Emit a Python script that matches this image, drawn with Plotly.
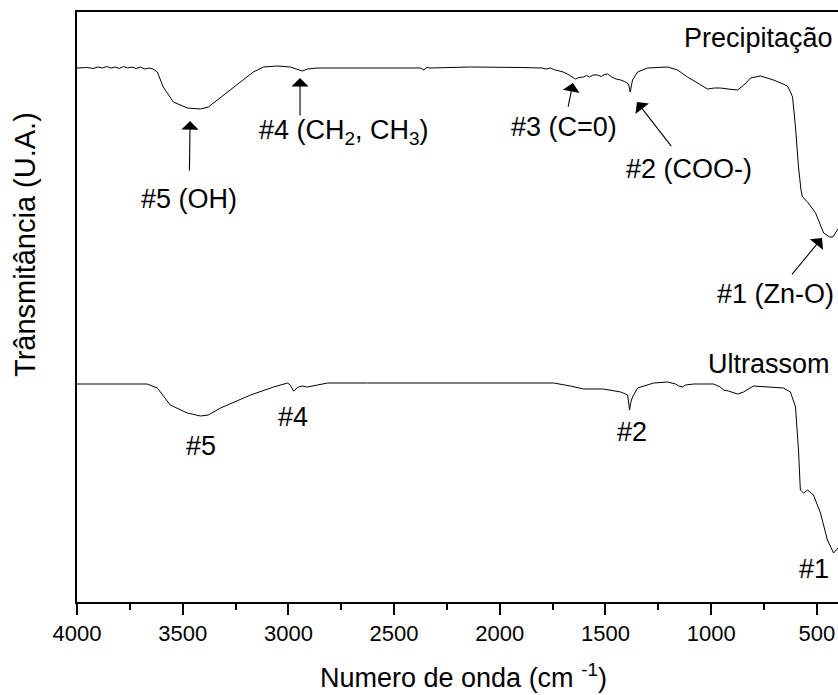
import plotly.graph_objects as go

# ---- data (wavenumber cm^-1, transmittance a.u.) ----
prec_wn = [4000, 3975, 3950, 3925, 3900, 3880, 3860, 3840, 3820, 3800, 3780, 3760, 3740, 3720, 3700,
           3680, 3660, 3640, 3620, 3592, 3544, 3478, 3416, 3379, 3336, 3260, 3166, 3118, 3052, 2991,
           2957, 2934, 2910, 2862, 2786, 2600, 2375, 2360, 2345, 2330, 2139, 1900, 1800, 1780, 1760,
           1745, 1720, 1700, 1680, 1660, 1642, 1625, 1604, 1590, 1575, 1560, 1538, 1520, 1505, 1490,
           1470, 1450, 1428, 1405, 1391, 1383, 1378, 1372, 1348, 1301, 1206, 1159, 1112, 1064, 1017,
           985, 956, 920, 875, 840, 814, 767, 705, 660, 639, 625, 615, 601, 587, 575, 568, 544, 506,
           468, 440, 425, 400]
prec_t = [534, 534, 534.5, 533.5, 535, 534, 535.5, 534, 535, 533.5, 535.5, 534, 535, 533.5, 535,
          533, 534, 533, 530, 515, 500, 494, 493, 495, 502, 515, 530, 535, 536, 535,
          533, 531, 533, 534, 534, 534, 534, 532, 534.5, 534, 535, 534.5, 534, 533, 534,
          532.5, 531, 530, 528, 525, 523, 524.5, 525, 526.5, 525, 527, 527, 525.5, 527.5, 528,
          525, 523, 522, 520, 518, 510, 516, 522, 530, 534, 535, 532, 525, 519, 513,
          514, 514, 513, 512, 518, 524, 526, 522, 518, 516, 510, 505, 475, 435, 412, 405, 400, 389,
          369, 365, 365, 373]

ultra_wn = [4000, 3668, 3620, 3559, 3478, 3416, 3379, 3321, 3179, 3070, 3004, 2991, 2976, 2953, 2934,
            2910, 2862, 2815, 2626, 2375, 1745, 1666, 1604, 1510, 1428, 1395, 1386, 1380, 1372, 1348,
            1272, 1206, 1168, 1154, 1135, 1121, 1083, 989, 956, 942, 918, 875, 847, 800, 719,
            658, 625, 601, 587, 578, 563, 544, 516, 483, 450, 421, 400]
ultra_t = [218, 218, 214, 197, 189, 186, 187, 194, 207, 215, 219, 217, 211, 215, 216,
           215, 217, 219, 219, 219, 219, 216, 213, 213, 210, 207, 192, 200, 205, 214,
           219, 220, 218, 216, 215, 217, 218, 218, 215, 212, 211, 208, 210, 216, 215,
           214, 210, 195, 152, 112, 109, 112, 107, 89, 62, 49, 54]

x_ticks = [4000, 3500, 3000, 2500, 2000, 1500, 1000, 500]
x_minor = [3750, 3250, 2750, 2250, 1750, 1250, 750]

FONT = "Liberation Sans, Arial, sans-serif"

fig = go.Figure()
fig.add_trace(go.Scatter(x=prec_wn, y=prec_t, mode="lines",
                         line=dict(color="black", width=1), name="Precipitação"))
fig.add_trace(go.Scatter(x=ultra_wn, y=ultra_t, mode="lines",
                         line=dict(color="black", width=1), name="Ultrassom"))

ann = []
def label(text, x, y, xanchor="center", size=27):
    ann.append(dict(text=text, x=x, y=y, xref="x", yref="y", xanchor=xanchor, yanchor="middle",
                    showarrow=False, font=dict(family=FONT, size=size, color="black")))

ARROW = dict(showarrow=True, arrowhead=1, arrowsize=2.6, arrowwidth=1.1, arrowcolor="black",
             standoff=0)

def arrow_label(text, x_text, y_text, x_head, y_head, gap=0, size=27):
    # label at (x_text, y_text); arrow from the label box to (x_head, y_head)
    ann.append(dict(text=text, x=x_head, y=y_head, ax=x_text, ay=y_text, xref="x", yref="y",
                    axref="x", ayref="y", startstandoff=gap,
                    font=dict(family=FONT, size=size, color="black"), **ARROW))

def arrow(x_tail, y_tail, x_head, y_head):
    ann.append(dict(text="", x=x_head, y=y_head, ax=x_tail, ay=y_tail, xref="x", yref="y",
                    axref="x", ayref="y", startstandoff=0, **ARROW))

label("Precipitação", 414, 564, xanchor="right")
arrow_label("#5 (OH)", 3470, 403, 3465, 481, gap=12)
label("#4 (CH<sub>2</sub>, CH<sub>3</sub>)", 3148, 470, xanchor="left")
arrow(2945, 485, 2945, 524)
arrow_label("#3 (C=0)", 1696, 475, 1654, 519, gap=4)
arrow_label("#2 (COO-)", 1105, 433, 1351, 500, gap=8)
arrow_label("#1 (Zn-O)", 694, 308, 476, 364, gap=4)
label("Ultrassom", 428, 238, xanchor="right")
label("#5", 3413, 156)
label("#4", 2978, 185)
label("#2", 1375, 170)
label("#1", 514, 33)

# axis titles
ann.append(dict(text="Numero de onda (cm <sup>-1</sup>)", x=(463 - 77) / 761, y=(602 - 676) / 590,
                xref="paper", yref="paper", xanchor="center", yanchor="middle", showarrow=False,
                font=dict(family=FONT, size=27, color="black")))
ann.append(dict(text="Trânsmitância (U.A.)", x=(25 - 77) / 761, y=(602 - 245) / 590,
                xref="paper", yref="paper", xanchor="center", yanchor="middle", showarrow=False,
                textangle=-90, font=dict(family=FONT, size=29, color="black")))

fig.update_layout(
    width=838, height=695,
    margin=dict(l=77, r=0, t=12, b=93),
    paper_bgcolor="white", plot_bgcolor="white",
    showlegend=False,
    annotations=ann,
    xaxis=dict(range=[4000, 400], tickvals=x_ticks, ticktext=[str(v) for v in x_ticks],
               ticks="outside", ticklen=11, tickwidth=2, tickcolor="black",
               minor=dict(tickvals=x_minor, ticks="outside",
                          ticklen=6, tickwidth=2, tickcolor="black"),
               showline=True, linecolor="black", linewidth=2, mirror=True,
               showgrid=False, zeroline=False,
               tickfont=dict(family=FONT, size=22, color="black")),
    yaxis=dict(range=[0, 590], showticklabels=False, ticks="", showline=True, linecolor="black",
               linewidth=2, showgrid=False, zeroline=False),
)

fig.write_html("out.html")
